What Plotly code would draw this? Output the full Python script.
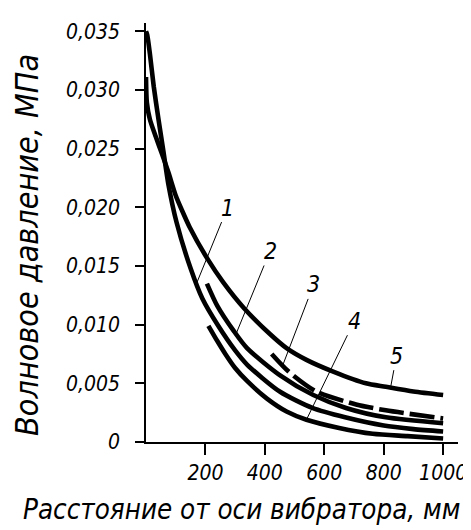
import numpy as np
import plotly.graph_objects as go

# ---- data ----
x1 = [0, 4, 13, 26, 42, 59, 75, 103, 150, 190, 243, 300, 340, 450, 560, 670, 800, 900, 1000]
y1 = [0.0350, 0.0347, 0.0331, 0.0303, 0.0275, 0.0247, 0.0220, 0.0187, 0.0148, 0.0122, 0.0099,
      0.0078, 0.0066, 0.0043, 0.0029, 0.0021, 0.0014, 0.0011, 0.0009]
x2 = [205, 240, 297, 340, 450, 563, 673, 807, 1000]
y2 = [0.0135, 0.0116, 0.0094, 0.0080, 0.0057, 0.0040, 0.0029, 0.0021, 0.0016]
x3 = [423, 480, 573, 707, 807, 1000]
y3 = [0.0075, 0.0060, 0.0043, 0.0032, 0.0027, 0.0020]
x4 = [210, 240, 267, 300, 340, 407, 473, 540, 650, 763, 880, 1000]
y4 = [0.0099, 0.0086, 0.0075, 0.0063, 0.0052, 0.0037, 0.0026, 0.0019, 0.0012, 0.0007, 0.0005, 0.0003]
x5 = [0, 3, 13, 33, 53, 75, 100, 120, 147, 207, 260, 330, 417, 473, 540, 630, 740, 807, 900, 1000]
y5 = [0.0311, 0.0289, 0.0275, 0.0260, 0.0246, 0.0230, 0.0210, 0.0198, 0.0183, 0.0156, 0.0136,
      0.0114, 0.0092, 0.0080, 0.0070, 0.0060, 0.0050, 0.0047, 0.0043, 0.0040]

curve_names = ["1", "2", "3", "4", "5"]
label_at_x = [170, 303, 460, 540, 823]

x_ticks = [200, 400, 600, 800, 1000]
x_tick_labels = ["200", "400", "600", "800", "1000"]
y_ticks = [0, 0.005, 0.010, 0.015, 0.020, 0.025, 0.030, 0.035]
y_tick_labels = ["0", "0,005", "0,010", "0,015", "0,020", "0,025", "0,030", "0,035"]

x_title = "Расстояние от оси вибратора, мм"
y_title = "Волновое давление, МПа"

# ---- styling ----
FONT = "DejaVu Sans Condensed, DejaVu Sans, sans-serif"
LW = 4.6
label_offsets = [(31, -76), (34, -83), (31, -81), (48, -99), (6, -32)]

xs = [x1, x2, x3, x4, x5]
ys = [y1, y2, y3, y4, y5]
dashes = ["solid", "solid", "25px,6px", "solid", "solid"]

fig = go.Figure()
for xv, yv, d in zip(xs, ys, dashes):
    fig.add_trace(go.Scatter(x=xv, y=yv, mode="lines",
                             line=dict(color="black", width=LW, dash=d,
                                       shape="spline", smoothing=0.7),
                             hoverinfo="skip", showlegend=False))

annotations = []
for name, lx, xv, yv, (ax, ay) in zip(curve_names, label_at_x, xs, ys, label_offsets):
    annotations.append(dict(x=lx, y=float(np.interp(lx, xv, yv)), xref="x", yref="y",
                            text=name, showarrow=True, arrowhead=0, arrowwidth=1,
                            arrowcolor="black", ax=ax, ay=ay,
                            font=dict(family=FONT, size=23, color="black", style="italic")))

annotations.append(dict(text=x_title, xref="paper", yref="paper", x=0.305, y=-0.159,
                        xanchor="center", yanchor="middle", showarrow=False,
                        font=dict(family=FONT, size=27.5, color="black", style="italic")))
annotations.append(dict(text=y_title, xref="paper", yref="paper", x=-0.382, y=0.47,
                        xanchor="center", yanchor="middle", showarrow=False, textangle=-90,
                        font=dict(family=FONT, size=32, color="black", style="italic")))

fig.update_layout(
    width=471, height=530,
    margin=dict(l=138, r=18, t=13, b=96),
    paper_bgcolor="white", plot_bgcolor="white",
    showlegend=False,
    annotations=annotations,
    xaxis=dict(range=[0, 1050], tickvals=x_ticks, ticktext=x_tick_labels,
               showline=True, linecolor="black", linewidth=1.5,
               ticks="outside", ticklen=11, tickwidth=1.5, tickcolor="black",
               ticklabelstandoff=0,
               showgrid=False, zeroline=False,
               tickfont=dict(family=FONT, size=21, color="black", style="italic")),
    yaxis=dict(range=[0, 0.0357], tickvals=y_ticks, ticktext=y_tick_labels,
               showline=True, linecolor="black", linewidth=1.5,
               ticks="outside", ticklen=9, tickwidth=1.5, tickcolor="black",
               ticklabelstandoff=11,
               showgrid=False, zeroline=False,
               tickfont=dict(family=FONT, size=21, color="black", style="italic")),
)

fig.write_html("out.html")
